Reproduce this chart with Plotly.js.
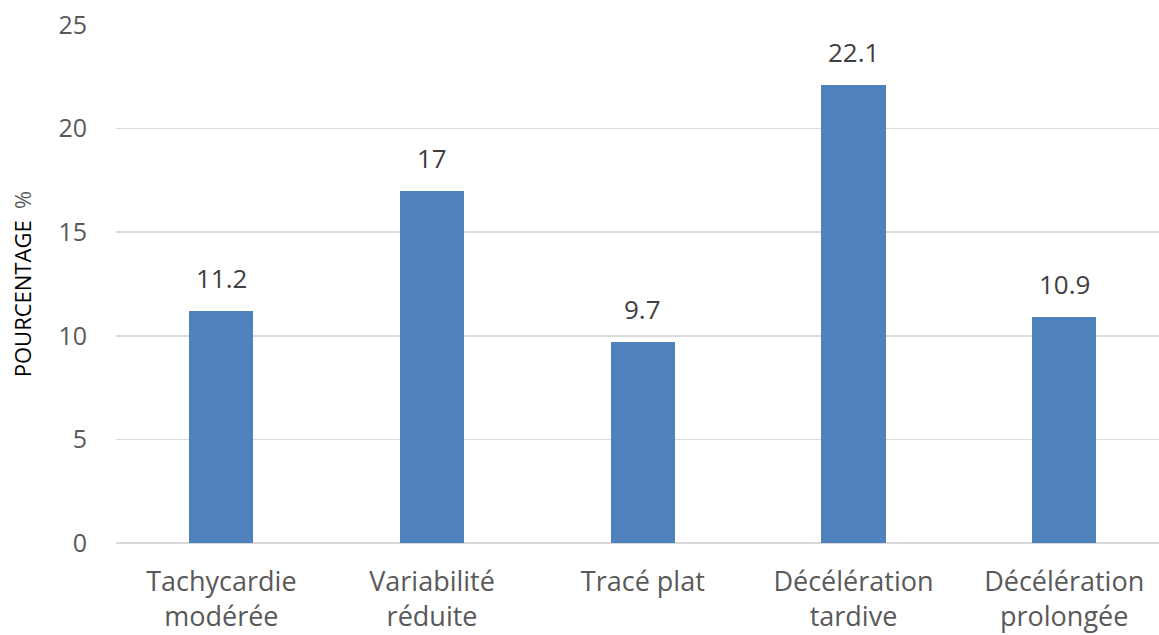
<!DOCTYPE html>
<html>
<head>
<meta charset="utf-8">
<script src="https://cdn.plot.ly/plotly-3.0.1.min.js"></script>
<style>html,body{margin:0;padding:0;background:#fff;overflow:hidden;}</style>
</head>
<body>
<div id="chart" style="width:1159px;height:635px;"></div>
<script>
const categories = ["Tachycardie<br>modérée", "Variabilité<br>réduite", "Tracé plat", "Décélération<br>tardive", "Décélération<br>prolongée"];
const values = [11.2, 17, 9.7, 22.1, 10.9];
const valueLabels = ["11.2", "17", "9.7", "22.1", "10.9"];
const yTicks = [0, 5, 10, 15, 20, 25];
const yTitle = "POURCENTAGE\u00a0\u00a0<span style='color:#595959'>%</span>";

const trace = {
  type: "bar",
  x: categories,
  y: values,
  width: 0.304,
  marker: {color: "#4F81BD"},
  hoverinfo: "x+y"
};

const annotations = categories.map((c, i) => ({
  x: c, y: values[i], text: valueLabels[i],
  showarrow: false, yshift: 33, xanchor: "center", yanchor: "middle",
  font: {family: "Open Sans, sans-serif", size: 26, color: "#404040"}
}));

const layout = {
  width: 1159, height: 635,
  margin: {l: 116, r: 0, t: 25, b: 92},
  paper_bgcolor: "#fff", plot_bgcolor: "#fff",
  showlegend: false,
  bargap: 0,
  xaxis: {
    type: "category",
    range: [-0.5, 4.45],
    showgrid: false, zeroline: false, showline: false,
    ticks: "",
    ticklabelstandoff: 20,
    tickfont: {family: "Open Sans, sans-serif", size: 27, color: "#595959"}
  },
  yaxis: {
    range: [0, 25],
    tickvals: yTicks,
    ticktext: yTicks.map(String),
    showgrid: true, gridcolor: "#D9D9D9", gridwidth: 1.5,
    zeroline: true, zerolinecolor: "#D9D9D9", zerolinewidth: 1.5,
    showline: false, ticks: "",
    ticklabelstandoff: 28,
    tickfont: {family: "Open Sans, sans-serif", size: 25, color: "#595959"},
    title: {text: yTitle, standoff: 20, font: {family: "Open Sans, sans-serif", size: 22, color: "#000"}}
  },
  annotations: annotations
};

Plotly.newPlot("chart", [trace], layout, {displayModeBar: false, staticPlot: true});
</script>
</body>
</html>
